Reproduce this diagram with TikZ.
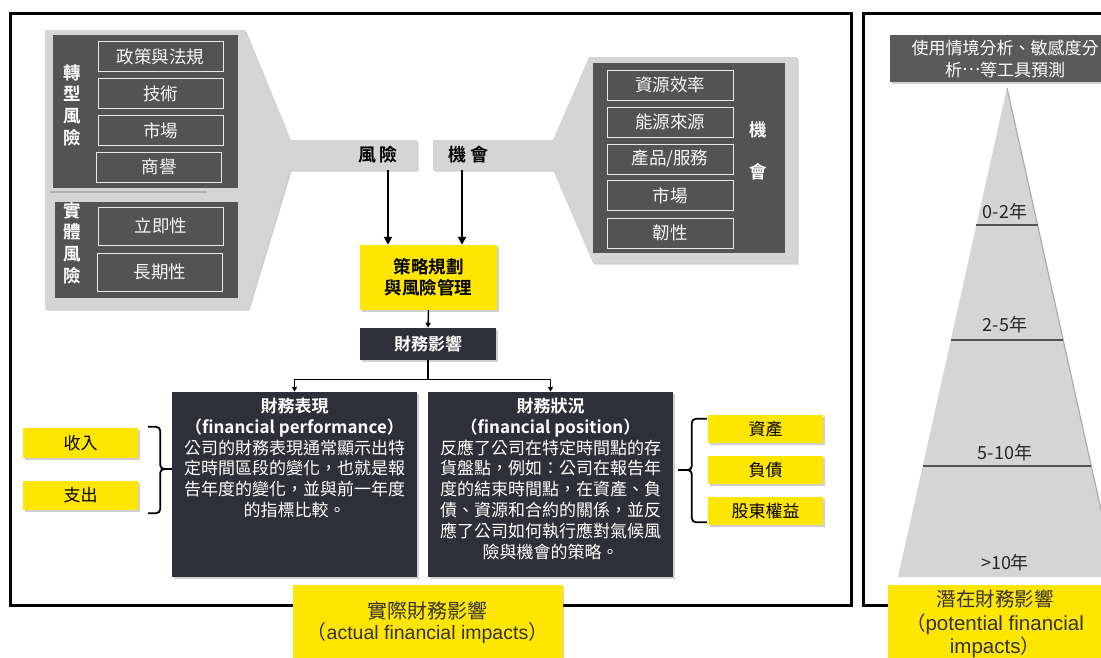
\documentclass[tikz,border=0pt]{standalone}
\usepackage{fontspec}
\setmainfont{Noto Sans CJK TC}[BoldFont={Noto Sans CJK TC Bold}]
\newfontfamily\latinfont{Liberation Sans}
\definecolor{ylw}{HTML}{FFE600}
\definecolor{panelgray}{HTML}{535353}
\definecolor{bggray}{HTML}{D5D5D5}
\definecolor{navy}{HTML}{2F2F39}
\definecolor{headgray}{HTML}{5A5A5A}
\usetikzlibrary{calc, positioning, arrows.meta, shadows}

\begin{document}
\begin{tikzpicture}[x=1pt, y=-1pt,
  frame/.style={draw=black, line width=3pt},
  softshadow/.style={drop shadow={shadow xshift=1.5pt, shadow yshift=-1.5pt, opacity=0.3, fill=black!60}},
  item/.style={draw=white!82!gray, line width=0.9pt, fill=panelgray, text=white!94!gray,
               minimum width=125pt, minimum height=30pt, inner sep=0pt,
               font=\fontsize{17.5}{20}\selectfont},
  vlabel/.style={text=white, align=center, inner sep=0pt,
                 font=\fontsize{17.5}{21.7}\selectfont\bfseries},
  barlabel/.style={minimum height=30pt, inner sep=0pt, font=\fontsize{18}{20}\selectfont\bfseries},
  ylwbox/.style={fill=ylw, softshadow, minimum width=115pt, minimum height=28pt, inner sep=0pt,
                 font=\fontsize{17}{20}\selectfont},
  darkbox/.style={fill=navy, softshadow, minimum width=245pt, minimum height=185pt, inner sep=0pt},
  boxtext/.style={text=white, align=center, inner sep=0pt, font=\fontsize{17}{20.8}\selectfont},
  bottomtext/.style={text=black!80, align=center, inner sep=0pt},
  agelabel/.style={inner sep=0pt, text=black!85, font=\fontsize{18}{20}\selectfont},
  arr/.style={-{Triangle[length=8pt,width=8pt]}, line width=2.4pt},
  sarr/.style={-{Triangle[length=5pt,width=5pt]}, line width=1.4pt},
  brace/.style={line width=1.8pt, rounded corners=4pt},
  tick/.style={draw=panelgray, line width=2.6pt},
]
\useasboundingbox (0,0) rectangle (1101,657);
\clip (0,0) rectangle (1101,657);
\fill[white] (0,0) rectangle (1101,657);

% frames
\draw[frame] (10,13) rectangle (851,605);
\draw[frame] (863,13) rectangle (1125,605);

% risk callout
\fill[bggray, softshadow] (45,30) -- (245,30) -- (290,140) -- (417,140) -- (417,170)
  -- (290,170) -- (248,309) -- (45,309) -- cycle;
\fill[panelgray] (53,35) rectangle (238,188);
\fill[panelgray] (55,202) rectangle (238,298);
\draw[gray!60, line width=1.5pt] (50,192) -- (207,192);

\node[vlabel] (trans) at (72,105) {轉\\型\\風\\險};
\node[item] (policy) at (160.5,56.5) {政策與法規};
\node[item] (tech) at (160.5,93.5) {技術};
\node[item] (rmkt) at (160.5,130.5) {市場};
\node[item] (repu) at (159,167) {商譽};

\node[vlabel] (phys) at (72,243) {實\\體\\風\\險};
\node[item, minimum height=38pt] (acute) at (161,226) {立即性};
\node[item, minimum height=38pt] (chronic) at (160,272) {長期性};

% opportunity callout
\fill[bggray, softshadow] (433,140) -- (553,140) -- (589,57) -- (797,57) -- (797,263)
  -- (593,263) -- (553,170) -- (433,170) -- cycle;
\fill[panelgray] (593,63) rectangle (785,253);

\node[item, minimum width=126pt] (effic) at (670,85) {資源效率};
\node[item, minimum width=126pt] (energy) at (670,122) {能源來源};
\node[item, minimum width=126pt] (prod) at (670,159) {產品/服務};
\node[item, minimum width=126pt] (omkt) at (670,195.5) {市場};
\node[item, minimum width=126pt] (resil) at (670,233) {韌性};
\node[vlabel] (opplabel) at (758,151) {機\\[20pt]會};

\node[barlabel] (risk) at (378,155) {風\hspace{4pt}險};
\node[barlabel] (opp) at (468,155) {機\hspace{4pt}會};

% strategy and impact
\node[ylwbox, minimum width=137pt, minimum height=65pt, align=center,
      font=\fontsize{17.5}{21}\selectfont\bfseries] (strat) at (428.5,277.5) {策略規劃\\與風險管理};
\node[fill=navy, softshadow, text=white, minimum width=136pt, minimum height=32pt, inner sep=0pt,
      font=\fontsize{17}{20}\selectfont\bfseries] (impact) at (428,344) {財務影響};

\draw[arr] ($(risk.south)+(10,0)$) coordinate (rs) -- (rs |- strat.north);
\draw[arr] ($(opp.south)+(-6,0)$) coordinate (os) -- (os |- strat.north);
\draw[sarr] (strat.south) -- (impact.north);

% performance and position
\node[darkbox] (perf) at (294.5,484.5) {};
\node[boxtext, below=6pt of perf.north] (perftext) {\textbf{財務表現}\\
  \textbf{（financial performance）}\\
  公司的財務表現通常顯示出特\\
  定時間區段的變化，也就是報\\
  告年度的變化，並與前一年度\\
  的指標比較。};

\node[darkbox] (pos) at (550.5,484.5) {};
\node[boxtext, below=6pt of pos.north] (postext) {\textbf{財務狀況}\\
  \textbf{（financial position）}\\
  反應了公司在特定時間點的存\\
  貨盤點，例如：公司在報告年\\
  度的結束時間點，在資產、負\\
  債、資源和合約的關係，並反\\
  應了公司如何執行應對氣候風\\
  險與機會的策略。};

\draw[sarr] (impact.south) -- ++(0,19) -| (perf.north);
\draw[sarr] (impact.south) -- ++(0,19) -| (pos.north);

% income / expense
\node[ylwbox, minimum height=30pt] (income) at (80.5,443) {收入};
\node[ylwbox, minimum height=29pt] (expense) at (80.5,495.5) {支出};
\coordinate (lb) at ($(income.north east)!0.5!(expense.south east)$);
\draw[brace] ($(income.north east)+(10,-1)$) -| ($(lb)+(22,0)$) -- (lb -| perf.west);
\draw[brace] ($(expense.south east)+(10,3)$) -| ($(lb)+(22,0)$) -- (lb -| perf.west);

% assets / liabilities / equity
\node[ylwbox] (asset) at (765.5,429) {資產};
\node[ylwbox] (liab) at (765.5,470) {負債};
\node[ylwbox] (equity) at (765.5,511) {股東權益};
\coordinate (rb) at ($(asset.north west)!0.5!(equity.south west)$);
\draw[brace] ($(asset.north west)+(-1,4)$) -| ($(rb)+(-16,0)$) -- ($(rb -| pos.east)+(5,0)$);
\draw[brace] ($(equity.south west)+(-1,-3)$) -| ($(rb)+(-16,0)$) -- ($(rb -| pos.east)+(5,0)$);

% actual impacts
\node[ylwbox, minimum width=270pt, minimum height=80pt, anchor=north] (actual) at (427.5,585) {};
\node[bottomtext, font=\fontsize{20}{21.5}\selectfont] (actualtext) at ($(actual.north)+(0,37.5)$)
  {實際財務影響\\（{\latinfont\fontsize{19.5}{21.5}\selectfont actual financial impacts}）};

% potential impacts
\node[fill=headgray, softshadow, text=white, minimum width=230pt, minimum height=47pt, inner sep=0pt,
      align=center, font=\fontsize{17}{22}\selectfont] (tools) at (1005,58.5)
  {使用情境分析、敏感度分\\析\raisebox{0.3em}{…}等工具預測};

\coordinate (apex) at (1007,88);
\coordinate (bl) at (898,577);
\coordinate (br) at (1116,577);
\fill[bggray] (apex) -- (bl) -- (br) -- cycle;
\draw[gray!65, line width=1.2pt] (apex) -- (br);
\foreach \t in {0.28,0.515,0.773}
  \draw[tick] ($(apex)!\t!(bl)$) -- ($(apex)!\t!(br)$);

\node[agelabel] (y02) at (1005,212) {0-2年};
\node[agelabel] (y25) at (1005,325) {2-5年};
\node[agelabel] (y510) at (1005,453) {5-10年};
\node[agelabel] (y10) at (1005,563) {>10年};

\node[ylwbox, minimum width=214pt, minimum height=80pt, anchor=north] (potential) at (995,585) {};
\node[bottomtext, font=\fontsize{19.5}{23.5}\selectfont] (pottext) at ($(potential.north)+(0,39)$)
  {潛在財務影響\\（{\latinfont\fontsize{20.5}{23.5}\selectfont potential financial}\\
   {\latinfont\fontsize{20.5}{23.5}\selectfont impacts}）};
\end{tikzpicture}
\end{document}
